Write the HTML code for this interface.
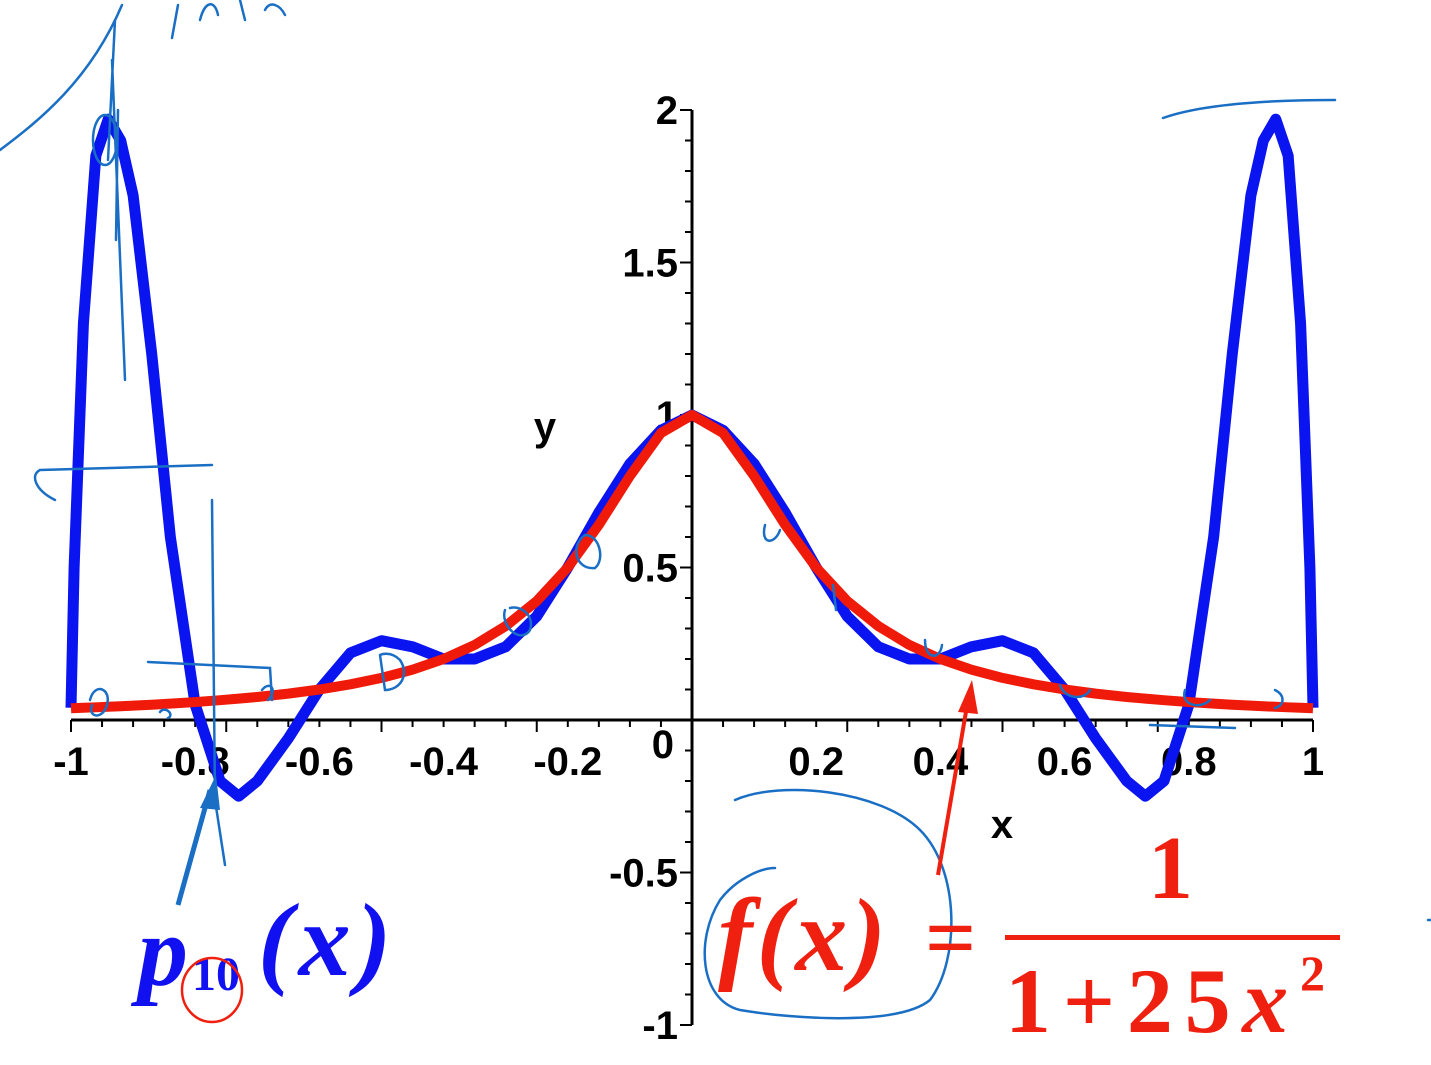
<!DOCTYPE html>
<html><head><meta charset="utf-8"><style>
html,body{margin:0;padding:0;background:#fff;}
svg{display:block;}
.t{font-family:"Liberation Sans",sans-serif;font-weight:bold;font-size:40px;fill:#000;}
</style></head><body>
<svg id="chart" width="1431" height="1065" viewBox="0 0 1431 1065" xmlns="http://www.w3.org/2000/svg">
<g id="axes"></g>
<g id="series"></g>
<g fill="none" stroke="#1a6fc4" stroke-width="2.5" stroke-linecap="round">
<path d="M0,150 C40,120 90,80 122,5"/>
<path d="M115,20 L108,160 M112,60 L125,380 M118,110 L116,240"/>
<path d="M172,38 L178,5 M200,20 C205,0 215,0 218,15 M240,0 L245,20 M265,10 C270,0 280,5 285,15"/>
<ellipse cx="105" cy="140" rx="12" ry="25"/>
<path d="M212,465 L40,470 C30,475 35,490 55,500"/>
<path d="M212,500 L215,800 L225,865"/>
<path d="M148,662 L270,668 L272,700 M262,690 C270,680 278,690 268,700"/>
<path d="M90,700 C95,680 115,690 105,710 C98,720 88,715 92,705 M160,712 C165,705 175,715 168,718"/>
<path d="M380,655 L385,690 C400,690 410,675 400,660 C390,650 380,655 380,655"/>
<path d="M505,610 C500,625 520,645 530,630 C535,615 520,605 510,608"/>
<path d="M585,535 C570,545 575,570 595,568 C605,560 600,535 585,535"/>
<path d="M765,525 C760,545 775,545 780,530"/>
<path d="M833,585 L836,610"/>
<path d="M925,640 C925,660 940,660 942,645"/>
<path d="M1060,685 C1065,700 1085,700 1090,690"/>
<path d="M1150,725 L1235,728 M1185,690 C1180,705 1200,710 1210,700"/>
<path d="M1275,690 C1285,695 1285,705 1275,708"/>
<path d="M1163,118 C1200,105 1260,100 1335,100"/>
<path d="M735,800 C780,780 880,790 920,830 C960,870 960,960 930,1000 C900,1025 800,1020 740,1010 C700,1000 695,940 720,900 C735,880 760,868 775,868"/>
<path d="M1428,920 L1431,920"/>
</g>
<g>
<path d="M178,905 L210,790" stroke="#1a6fc4" stroke-width="5" fill="none"/>
<polygon points="216,775 200,808 220,810" fill="#1a6fc4"/>
<path d="M938,875 L968,700" stroke="#f02010" stroke-width="4" fill="none"/>
<polygon points="972,680 958,712 978,714" fill="#f02010"/>
</g>
<text x="138" y="985" font-family="Liberation Serif,serif" font-style="italic" font-weight="bold" font-size="100" fill="#1010f0">p</text>
<text x="192" y="990" font-family="Liberation Serif,serif" font-weight="bold" font-size="48" fill="#1010f0">10</text>
<ellipse cx="212" cy="990" rx="30" ry="32" fill="none" stroke="#f02010" stroke-width="2.5"/>
<text x="258" y="975" font-family="Liberation Serif,serif" font-style="italic" font-weight="bold" font-size="104" fill="#1010f0" letter-spacing="6">(x)</text>
<text x="718" y="970" font-family="Liberation Serif,serif" font-style="italic" font-weight="bold" font-size="104" fill="#f02010" letter-spacing="4">f(x)</text>
<text x="925" y="968" font-family="Liberation Serif,serif" font-weight="bold" font-size="90" fill="#f02010">=</text>
<text x="1148" y="898" font-family="Liberation Serif,serif" font-weight="bold" font-size="90" fill="#f02010">1</text>
<rect x="1005" y="935" width="335" height="5" fill="#f02010"/>
<text x="1005" y="1032" font-family="Liberation Serif,serif" font-weight="bold" font-size="92" fill="#f02010" textLength="320">1+25<tspan font-style="italic">x</tspan><tspan font-size="50" dy="-42">2</tspan></text>
</svg>
<script>
const tickX=[-1,-0.8,-0.6,-0.4,-0.2,0.2,0.4,0.6,0.8,1];
const tickXLabels=["-1","-0.8","-0.6","-0.4","-0.2","0.2","0.4","0.6","0.8","1"];
const tickY=[-1,-0.5,0.5,1,1.5,2];
const tickYLabels=["-1","-0.5","0.5","1","1.5","2"];
const xs=[0,0.05,0.1,0.15,0.2,0.25,0.3,0.35,0.4,0.45,0.5,0.55,0.6,0.65,0.7,0.73,0.76,0.8,0.84,0.87,0.9,0.92,0.94,0.96,0.98,0.995,1];
const fVals=[1,0.941,0.8,0.64,0.5,0.39,0.308,0.246,0.2,0.165,0.138,0.117,0.1,0.0865,0.0755,0.07,0.065,0.0588,0.0536,0.05,0.0471,0.045,0.0433,0.0416,0.04,0.039,0.0385];
const pVals=[1,0.95,0.84,0.68,0.5,0.34,0.24,0.2,0.2,0.24,0.26,0.22,0.1,-0.06,-0.2,-0.25,-0.2,0.05,0.6,1.2,1.72,1.9,1.97,1.85,1.3,0.5,0.04];
const X=v=>692+v*621, Y=v=>720-v*305;
const NS="http://www.w3.org/2000/svg";
const ax=document.getElementById('axes'), se=document.getElementById('series');
function mk(t,a,p){const e=document.createElementNS(NS,t);for(const k in a)e.setAttribute(k,a[k]);p.appendChild(e);return e;}
let l=mk('line',{x1:X(-1),x2:X(1),y1:Y(0),y2:Y(0),stroke:'#000','stroke-width':3},ax);


l=mk('line',{x1:X(0),x2:X(0),y1:Y(2),y2:Y(-1),stroke:'#000','stroke-width':3},ax);


for(let i=-20;i<=20;i++){const v=i/20;mk('line',{x1:X(v),x2:X(v),y1:Y(0),y2:Y(0)+(i%5==0?12:7),stroke:'#000','stroke-width':2},ax);}
for(let i=-10;i<=20;i++){const v=i/10;mk('line',{x1:X(0),x2:X(0)-(i%5==0?12:7),y1:Y(v),y2:Y(v),stroke:'#000','stroke-width':2},ax);}
tickX.forEach((v,i)=>{const t=mk('text',{x:X(v),y:775,'text-anchor':'middle',class:'t'},ax);t.textContent=tickXLabels[i];

});
tickY.forEach((v,i)=>{const t=mk('text',{x:X(0)-14,y:Y(v)+14,'text-anchor':'end',class:'t'},ax);t.textContent=tickYLabels[i];

});
let t=mk('text',{x:X(0)-18,y:Y(0)+38,'text-anchor':'end',class:'t'},ax);t.textContent='0';


t=mk('text',{x:545,y:440,'text-anchor':'middle',class:'t'},ax);t.textContent='y';


t=mk('text',{x:1002,y:838,'text-anchor':'middle',class:'t'},ax);t.textContent='x';


function pts(vals){const a=[];for(let i=xs.length-1;i>0;i--)a.push(X(-xs[i])+','+Y(vals[i]));for(let i=0;i<xs.length;i++)a.push(X(xs[i])+','+Y(vals[i]));return a.join(' ');}
let p=mk('polyline',{points:pts(pVals),fill:'none',stroke:'#0a14f0','stroke-width':11,'stroke-linejoin':'round'},se);


p=mk('polyline',{points:pts(fVals),fill:'none',stroke:'#f01a0a','stroke-width':10,'stroke-linejoin':'round'},se);


</script>
</body></html>
